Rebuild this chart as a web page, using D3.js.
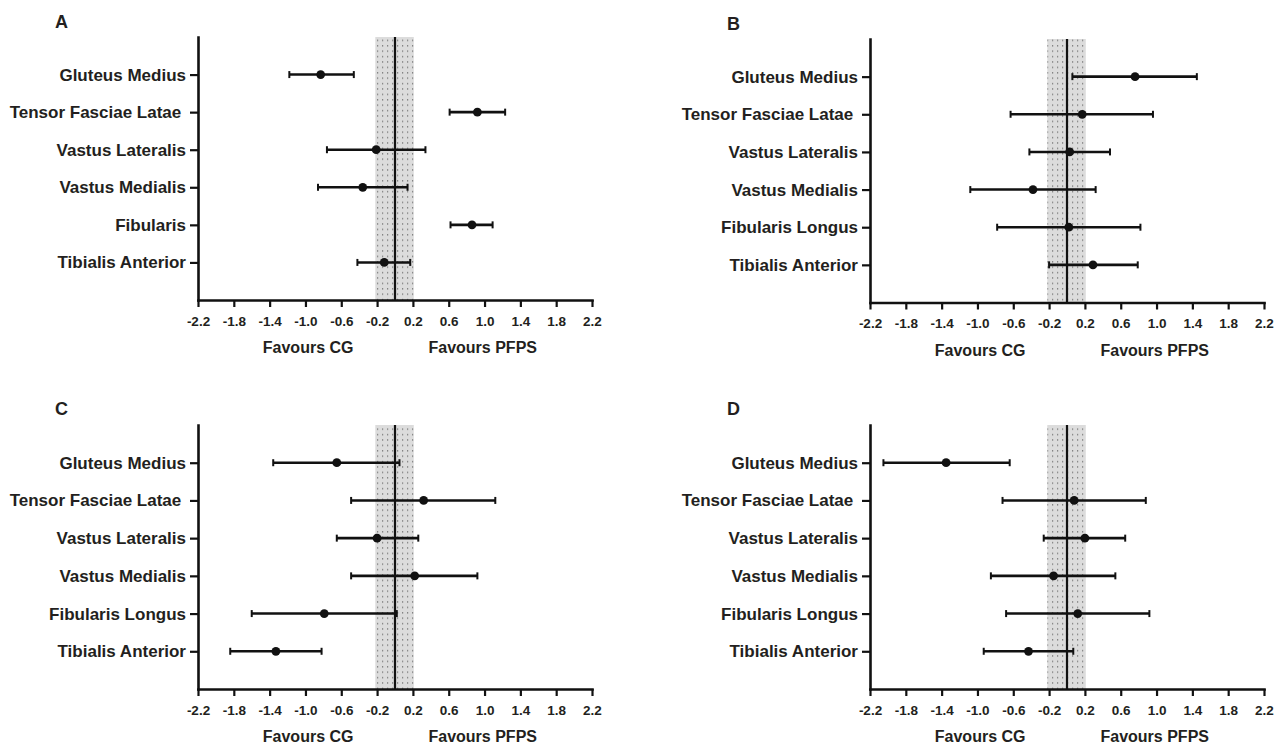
<!DOCTYPE html>
<html>
<head>
<meta charset="utf-8">
<script src="https://cdn.jsdelivr.net/npm/d3@7"></script>
<style>
  body { margin: 0; background: #fff; }
  svg text { font-family: "Liberation Sans", Arial, sans-serif; font-weight: bold; fill: #231f20; }
</style>
</head>
<body>
<div id="chart"></div>
<script>
// muscle names (top to bottom)
var musclesA = ["Gluteus Medius", "Tensor Fasciae Latae ", "Vastus Lateralis", "Vastus Medialis", "Fibularis", "Tibialis Anterior"];
var musclesBCD = ["Gluteus Medius", "Tensor Fasciae Latae ", "Vastus Lateralis", "Vastus Medialis", "Fibularis Longus", "Tibialis Anterior"];

// effect sizes with 95% CI
var estA = [-0.83, 0.92, -0.21, -0.36, 0.86, -0.12];
var lowA = [-1.18, 0.61, -0.76, -0.86, 0.62, -0.42];
var highA = [-0.46, 1.23, 0.34, 0.14, 1.09, 0.17];

var estB = [0.76, 0.17, 0.03, -0.38, 0.02, 0.29];
var lowB = [0.06, -0.63, -0.42, -1.08, -0.78, -0.20];
var highB = [1.45, 0.96, 0.48, 0.32, 0.82, 0.79];

var estC = [-0.65, 0.32, -0.20, 0.22, -0.79, -1.33];
var lowC = [-1.36, -0.49, -0.65, -0.49, -1.60, -1.84];
var highC = [0.05, 1.12, 0.26, 0.92, 0.02, -0.82];

var estD = [-1.35, 0.08, 0.20, -0.15, 0.12, -0.43];
var lowD = [-2.05, -0.72, -0.26, -0.85, -0.68, -0.93];
var highD = [-0.64, 0.88, 0.65, 0.54, 0.92, 0.07];

var xTicks = [-2.2, -1.8, -1.4, -1.0, -0.6, -0.2, 0.2, 0.6, 1.0, 1.4, 1.8, 2.2];
var bandRange = [-0.22, 0.21];
var favourLabels = ["Favours CG", "Favours PFPS"];

var W = 1282, H = 746;

var svg = d3.select("#chart").append("svg")
  .attr("width", W)
  .attr("height", H);

// dotted fill for the shaded band
var pat = svg.append("defs").append("pattern")
  .attr("id", "dots")
  .attr("patternUnits", "userSpaceOnUse")
  .attr("width", 5)
  .attr("height", 5.4);
pat.append("rect").attr("width", 5).attr("height", 5.4).attr("fill", "#dcdcdc");
pat.append("rect").attr("x", 2).attr("y", 2).attr("width", 1.2).attr("height", 1.2).attr("fill", "#6a6a6a");

var panels = [
  { letter: "A", names: musclesA, est: estA, low: lowA, high: highA, left: 198, top: 37, bottom: 300, lx: 55, ly: 28 },
  { letter: "B", names: musclesBCD, est: estB, low: lowB, high: highB, left: 870, top: 39, bottom: 302.5, lx: 727, ly: 30 },
  { letter: "C", names: musclesBCD, est: estC, low: lowC, high: highC, left: 198, top: 425, bottom: 689, lx: 55, ly: 415 },
  { letter: "D", names: musclesBCD, est: estD, low: lowD, high: highD, left: 870, top: 425, bottom: 689, lx: 727, ly: 415 }
];

panels.forEach(function(p) {
  var x = d3.scaleLinear().domain([-2.2, 2.2]).range([p.left, p.left + 394]);
  var y = d3.scalePoint().domain(p.names).range([p.top, p.bottom]).padding(1);

  var g = svg.append("g");

  // shaded band around zero
  g.append("rect")
    .attr("x", x(bandRange[0]))
    .attr("y", p.top)
    .attr("width", x(bandRange[1]) - x(bandRange[0]))
    .attr("height", p.bottom - p.top)
    .attr("fill", "url(#dots)");

  // zero line
  g.append("line")
    .attr("x1", x(0)).attr("x2", x(0))
    .attr("y1", p.top).attr("y2", p.bottom)
    .attr("stroke", "#111")
    .attr("stroke-width", 2.2);

  // x axis
  var xAxis = d3.axisBottom(x)
    .tickValues(xTicks)
    .tickFormat(function(d) { return d.toFixed(1); })
    .tickSize(7)
    .tickSizeOuter(0)
    .tickPadding(9);

  var gx = g.append("g")
    .attr("transform", "translate(0," + p.bottom + ")")
    .call(xAxis);
  gx.select(".domain").attr("stroke", "#111").attr("stroke-width", 2.6).attr("stroke-linecap", "square");
  gx.selectAll(".tick line").attr("stroke", "#111").attr("stroke-width", 2.2);
  gx.selectAll(".tick text")
    .attr("font-family", null)
    .style("font-size", "13.5px")
    .attr("fill", null);

  // y axis with muscle names
  var yAxis = d3.axisLeft(y).tickSize(8).tickSizeOuter(0).tickPadding(4);
  var gy = g.append("g")
    .attr("transform", "translate(" + p.left + ",0)")
    .call(yAxis);
  gy.select(".domain").attr("stroke", "#111").attr("stroke-width", 2.6).attr("stroke-linecap", "square");
  gy.selectAll(".tick line").attr("stroke", "#111").attr("stroke-width", 2.2);
  gy.selectAll(".tick text")
    .attr("font-family", null)
    .attr("fill", null)
    .style("font-size", "17px")
    .style("white-space", "pre");

  // error bars
  var rows = p.names.map(function(n, i) {
    return { name: n, est: p.est[i], low: p.low[i], high: p.high[i] };
  });

  var bars = g.append("g").selectAll("g").data(rows).join("g");

  bars.append("line")
    .attr("x1", function(d) { return x(d.low); })
    .attr("x2", function(d) { return x(d.high); })
    .attr("y1", function(d) { return y(d.name); })
    .attr("y2", function(d) { return y(d.name); })
    .attr("stroke", "#111")
    .attr("stroke-width", 2.6);

  ["low", "high"].forEach(function(k) {
    bars.append("line")
      .attr("x1", function(d) { return x(d[k]); })
      .attr("x2", function(d) { return x(d[k]); })
      .attr("y1", function(d) { return y(d.name) - 3.5; })
      .attr("y2", function(d) { return y(d.name) + 3.5; })
      .attr("stroke", "#111")
      .attr("stroke-width", 2);
  });

  bars.append("circle")
    .attr("cx", function(d) { return x(d.est); })
    .attr("cy", function(d) { return y(d.name); })
    .attr("r", 4.4)
    .attr("fill", "#111");

  // favours labels
  g.append("text")
    .attr("x", x(-0.97))
    .attr("y", p.bottom + 53)
    .attr("text-anchor", "middle")
    .style("font-size", "16px")
    .text(favourLabels[0]);
  g.append("text")
    .attr("x", x(0.98))
    .attr("y", p.bottom + 53)
    .attr("text-anchor", "middle")
    .style("font-size", "16px")
    .text(favourLabels[1]);

  // panel letter
  g.append("text")
    .attr("x", p.lx)
    .attr("y", p.ly)
    .style("font-size", "18px")
    .text(p.letter);
});
</script>
</body>
</html>
